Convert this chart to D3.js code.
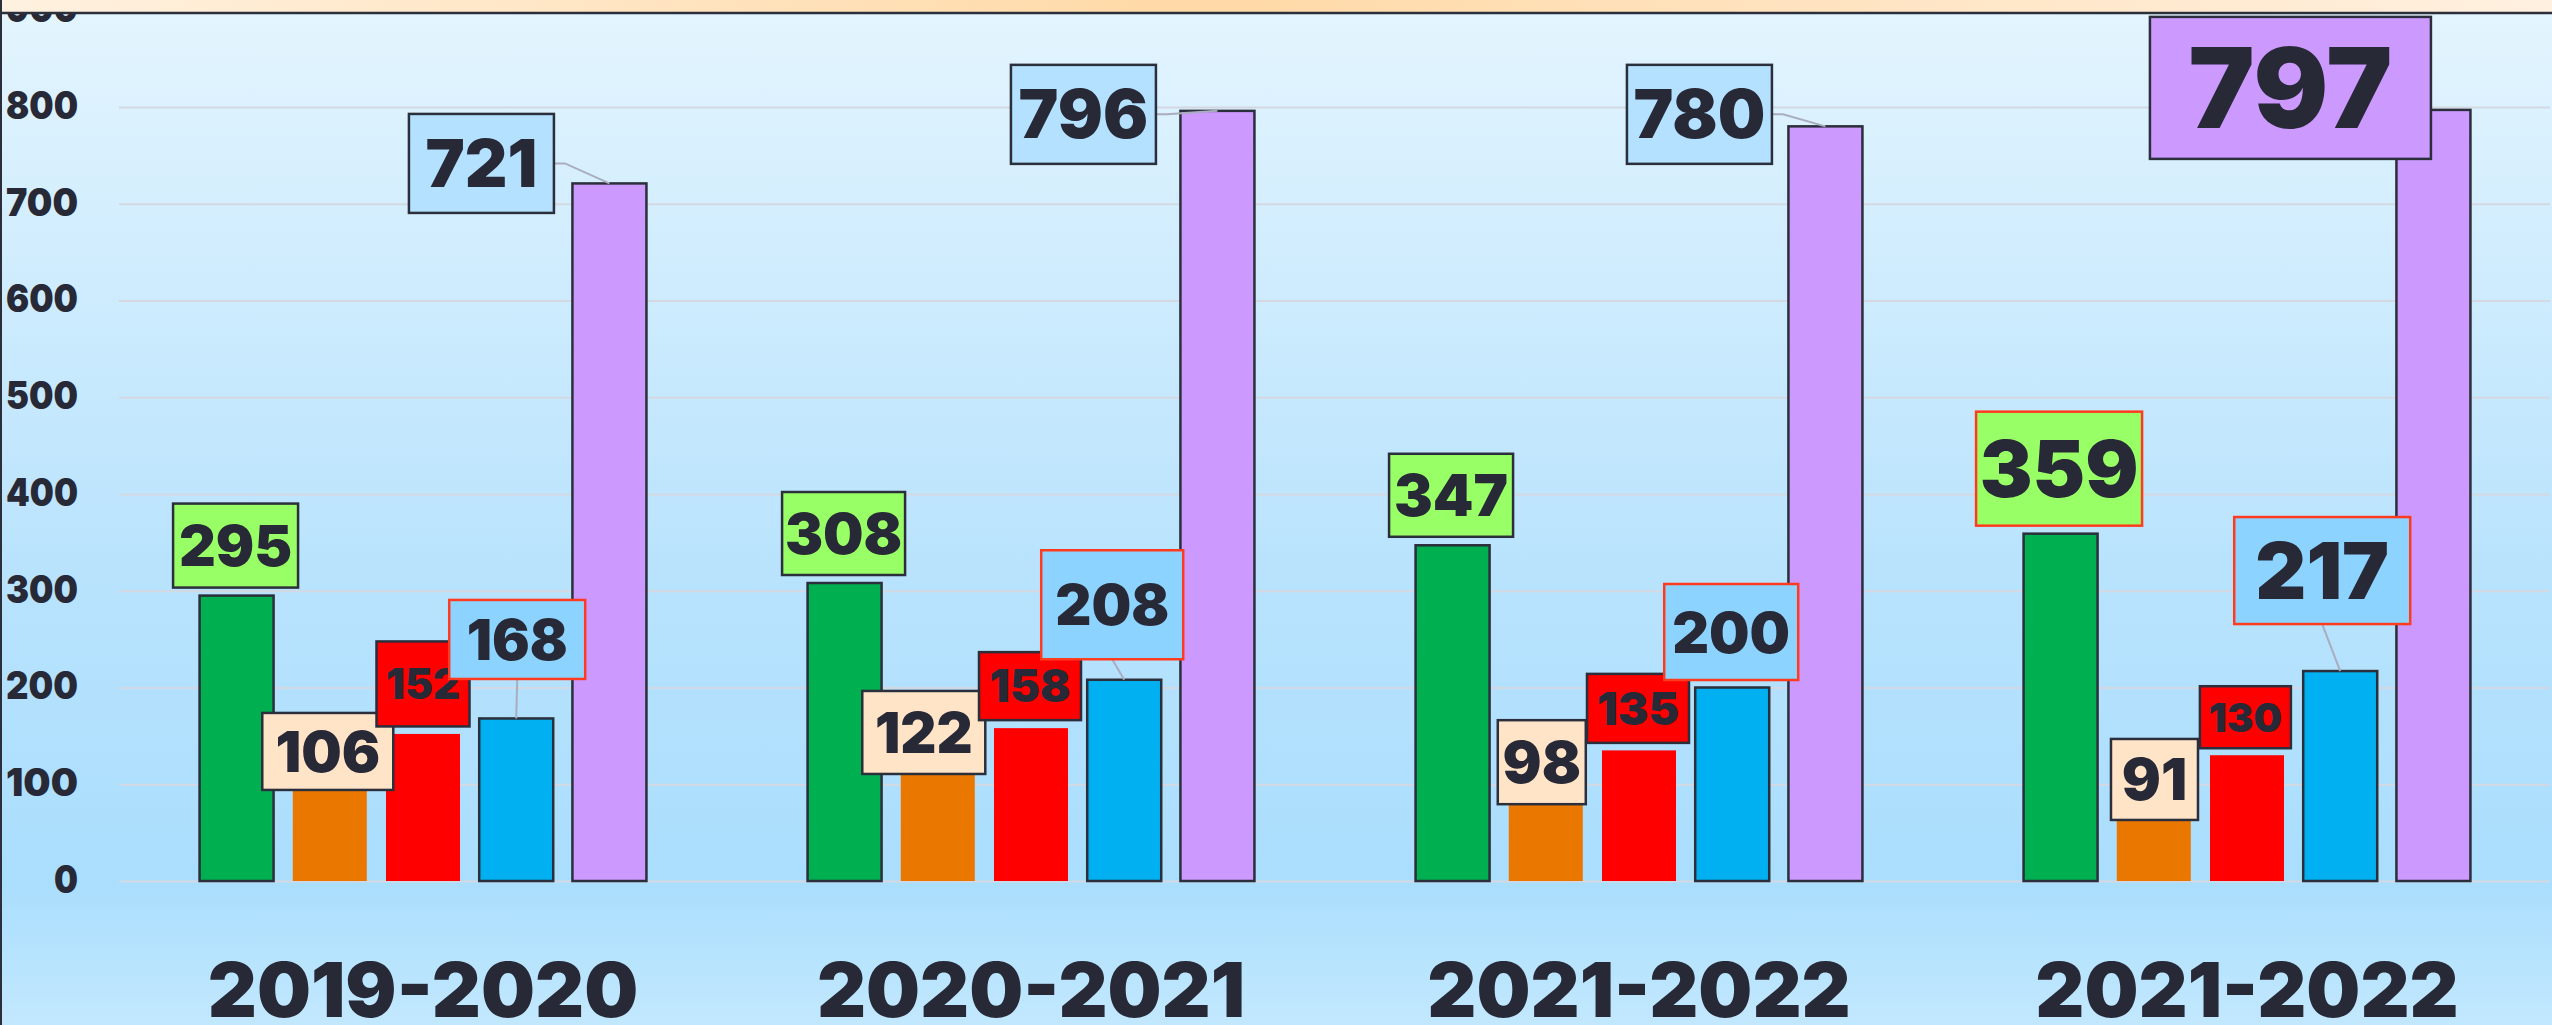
<!DOCTYPE html>
<html>
<head>
<meta charset="utf-8">
<script src="https://cdn.jsdelivr.net/npm/d3@7"></script>
<style>
  html, body { margin: 0; padding: 0; background: #ffffff; }
  svg { display: block; }
  text { font-family: "Inter", "DejaVu Sans", sans-serif; font-weight: 900; fill: #272936; }
</style>
</head>
<body>
<script>
// ---------- data ----------
const categories = ["2019-2020", "2020-2021", "2021-2022", "2021-2022"];
const seriesNames = ["Series 1", "Series 2", "Series 3", "Series 4", "Series 5"];
const series1 = [295, 308, 347, 359];
const series2 = [106, 122, 98, 91];
const series3 = [152, 158, 135, 130];
const series4 = [168, 208, 200, 217];
const series5 = [721, 796, 780, 797];
const yTicks = [0, 100, 200, 300, 400, 500, 600, 700, 800, 900];

// ---------- styles ----------
const seriesColors = ["#00b050", "#ea7700", "#ff0000", "#00b0f0", "#cc99ff"];
const seriesStroke = ["#2b2e3b", "none", "none", "#2b2e3b", "#2b2e3b"];

// label layout (offsets from bar top centre, box size, font size, box style, leader)
const DK = "#2b2e3b", RD = "#ff3b1f";
const labelLayout = [
  [
    {dx: -1, dy: -50, w: 125, h: 84, fs: 57, fill: "#99ff66", stroke: DK},
    {dx: -2, dy: -27, w: 131, h: 77, fs: 57, fill: "#ffe4c8", stroke: DK},
    {dx: 0, dy: -50, w: 93, h: 85, fs: 42, fill: "#ff0000", stroke: DK},
    {dx: 1, dy: -79, w: 136, h: 79, fs: 56, fill: "#8dd3ff", stroke: RD, leader: "bottom"},
    {dx: -128, dy: -20, w: 145, h: 99, fs: 66, fill: "#b3e1ff", stroke: DK, leader: "side"}
  ],
  [
    {dx: -1, dy: -49.5, w: 123, h: 83, fs: 57, fill: "#99ff66", stroke: DK},
    {dx: -14, dy: -30.5, w: 123, h: 83, fs: 56, fill: "#ffe4c8", stroke: DK},
    {dx: -1, dy: -42, w: 102, h: 68, fs: 45, fill: "#ff0000", stroke: DK},
    {dx: -12, dy: -75, w: 142, h: 109, fs: 56, fill: "#8dd3ff", stroke: RD, leader: "bottom"},
    {dx: -134, dy: 3.5, w: 145, h: 99, fs: 67, fill: "#b3e1ff", stroke: DK, leader: "side"}
  ],
  [
    {dx: -1.5, dy: -50, w: 124, h: 83, fs: 58, fill: "#99ff66", stroke: DK},
    {dx: -4, dy: -24, w: 88, h: 84, fs: 58, fill: "#ffe4c8", stroke: DK},
    {dx: -1, dy: -42, w: 102, h: 69, fs: 46, fill: "#ff0000", stroke: DK},
    {dx: -1, dy: -55.5, w: 134, h: 96, fs: 57, fill: "#8dd3ff", stroke: RD},
    {dx: -126, dy: -12, w: 145, h: 99, fs: 67, fill: "#b3e1ff", stroke: DK, leader: "side"}
  ],
  [
    {dx: -1.5, dy: -65, w: 166, h: 114, fs: 79, fill: "#99ff66", stroke: RD},
    {dx: 0.7, dy: -13.5, w: 87, h: 81, fs: 58, fill: "#ffe4c8", stroke: DK},
    {dx: -1.6, dy: -38, w: 91, h: 62, fs: 40, fill: "#ff0000", stroke: DK},
    {dx: -18, dy: -100.5, w: 176, h: 107, fs: 79, fill: "#8dd3ff", stroke: RD, leader: "bottom"},
    {dx: -143, dy: -22, w: 281, h: 142, fs: 111, fill: "#cc99ff", stroke: DK}
  ]
];

// ---------- build ----------
const W = 2552, H = 1025;
const allSeries = [series1, series2, series3, series4, series5];
const table = categories.map((c, i) => ({cat: c, idx: i, values: allSeries.map(s => s[i])}));

const svg = d3.select("body").append("svg").attr("width", W).attr("height", H);
const defs = svg.append("defs");
const bg = defs.append("linearGradient").attr("id", "bg").attr("x1", 0).attr("y1", 0).attr("x2", 0).attr("y2", 1);
bg.append("stop").attr("offset", "0").attr("stop-color", "#e4f5fe");
bg.append("stop").attr("offset", "0.55").attr("stop-color", "#b9e3fd");
bg.append("stop").attr("offset", "0.86").attr("stop-color", "#aadefd");
bg.append("stop").attr("offset", "1").attr("stop-color", "#c2e8fe");
const tg = defs.append("linearGradient").attr("id", "tg").attr("x1", 0).attr("y1", 0).attr("x2", 1).attr("y2", 0);
tg.append("stop").attr("offset", "0").attr("stop-color", "#fff1e0");
tg.append("stop").attr("offset", "0.47").attr("stop-color", "#ffd9a6");
tg.append("stop").attr("offset", "1").attr("stop-color", "#fff0e0");

svg.append("rect").attr("x", 0).attr("y", 0).attr("width", W).attr("height", H).attr("fill", "url(#bg)");

const plotLeft = 119, plotRight = 2551;
const y = d3.scaleLinear().domain([0, 900]).range([881, 881 - 900 * 0.9675]);
const x0 = d3.scaleBand().domain(table.map(d => d.idx)).range([plotLeft, plotRight])
  .paddingInner(0.265).paddingOuter(0.1325);
const x1 = d3.scaleBand().domain(d3.range(5)).range([0, x0.bandwidth()]).paddingInner(0.206).paddingOuter(0);

// gridlines
const grid = d3.axisLeft(y).tickValues(yTicks).tickSize(-(plotRight - 1 - plotLeft)).tickFormat("");
svg.append("g").attr("transform", `translate(${plotLeft},0)`).call(grid)
  .call(g => g.select(".domain").remove())
  .call(g => g.selectAll("line").attr("stroke", "#d4d8e2").attr("stroke-width", 2));

// y tick labels
const yAxis = d3.axisLeft(y).tickValues(yTicks).tickSize(0).tickPadding(0).tickFormat(d3.format("d"));
svg.append("g").attr("transform", `translate(78,0)`).call(yAxis)
  .call(g => g.select(".domain").remove())
  .call(g => g.selectAll("text").attr("font-size", 38).attr("font-family", null)
    .attr("fill", "#272936").attr("dy", "0.3em")
    .attr("textLength", d => String(d).length * 24)
    .attr("lengthAdjust", "spacingAndGlyphs"));

// bars
const groups = svg.append("g").selectAll("g").data(table).join("g")
  .attr("transform", d => `translate(${x0(d.idx)},0)`);
groups.selectAll("rect").data(d => d.values.map((v, s) => ({v, s}))).join("rect")
  .attr("x", d => x1(d.s)).attr("width", x1.bandwidth())
  .attr("y", d => y(d.v)).attr("height", d => y(0) - y(d.v))
  .attr("fill", d => seriesColors[d.s])
  .attr("stroke", d => seriesStroke[d.s]).attr("stroke-width", 2.5);

// labels
const labels = [];
table.forEach(d => d.values.forEach((v, s) => {
  const L = labelLayout[d.idx][s];
  const bx = x0(d.idx) + x1(s) + x1.bandwidth() / 2, by = y(v);
  labels.push({v, s, L, bx, by, cx: bx + L.dx, cy: by + L.dy});
}));
const lead = svg.append("g");
labels.filter(l => l.L.leader).forEach(l => {
  let pts;
  if (l.L.leader === "side") {
    const ex = l.cx + l.L.w / 2;
    pts = [[ex, l.cy], [ex + 11, l.cy], [l.bx, l.by]];
  } else {
    pts = [[l.cx, l.cy + l.L.h / 2], [l.bx, l.by]];
  }
  lead.append("path").attr("d", d3.line()(pts)).attr("fill", "none")
    .attr("stroke", "#a9adbd").attr("stroke-width", 2);
});
const lab = svg.append("g").selectAll("g").data(labels).join("g");
lab.append("rect")
  .attr("x", l => l.cx - l.L.w / 2).attr("y", l => l.cy - l.L.h / 2)
  .attr("width", l => l.L.w).attr("height", l => l.L.h)
  .attr("fill", l => l.L.fill).attr("stroke", l => l.L.stroke).attr("stroke-width", 2.5);
lab.append("text")
  .attr("x", l => l.cx).attr("y", l => l.cy + l.L.fs * 0.36)
  .attr("text-anchor", "middle").attr("font-size", l => l.L.fs)
  .text(l => l.v);

// category labels
const xAxis = d3.axisBottom(x0).tickSize(0).tickPadding(0).tickFormat(i => categories[i]);
svg.append("g").attr("transform", `translate(0,962)`).call(xAxis)
  .call(g => g.select(".domain").remove())
  .call(g => g.selectAll("text").attr("font-size", 76).attr("font-family", null)
    .attr("fill", "#272936").attr("dy", "0.72em"));

// top strip and frame
svg.append("rect").attr("x", 0).attr("y", 0).attr("width", W).attr("height", 12).attr("fill", "url(#tg)");
svg.append("line").attr("x1", 0).attr("x2", W).attr("y1", 13).attr("y2", 13).attr("stroke", "#2b2e3b").attr("stroke-width", 2.5);
svg.append("line").attr("x1", 1).attr("x2", 1).attr("y1", 0).attr("y2", H).attr("stroke", "#2b2e3b").attr("stroke-width", 2);
</script>
</body>
</html>
